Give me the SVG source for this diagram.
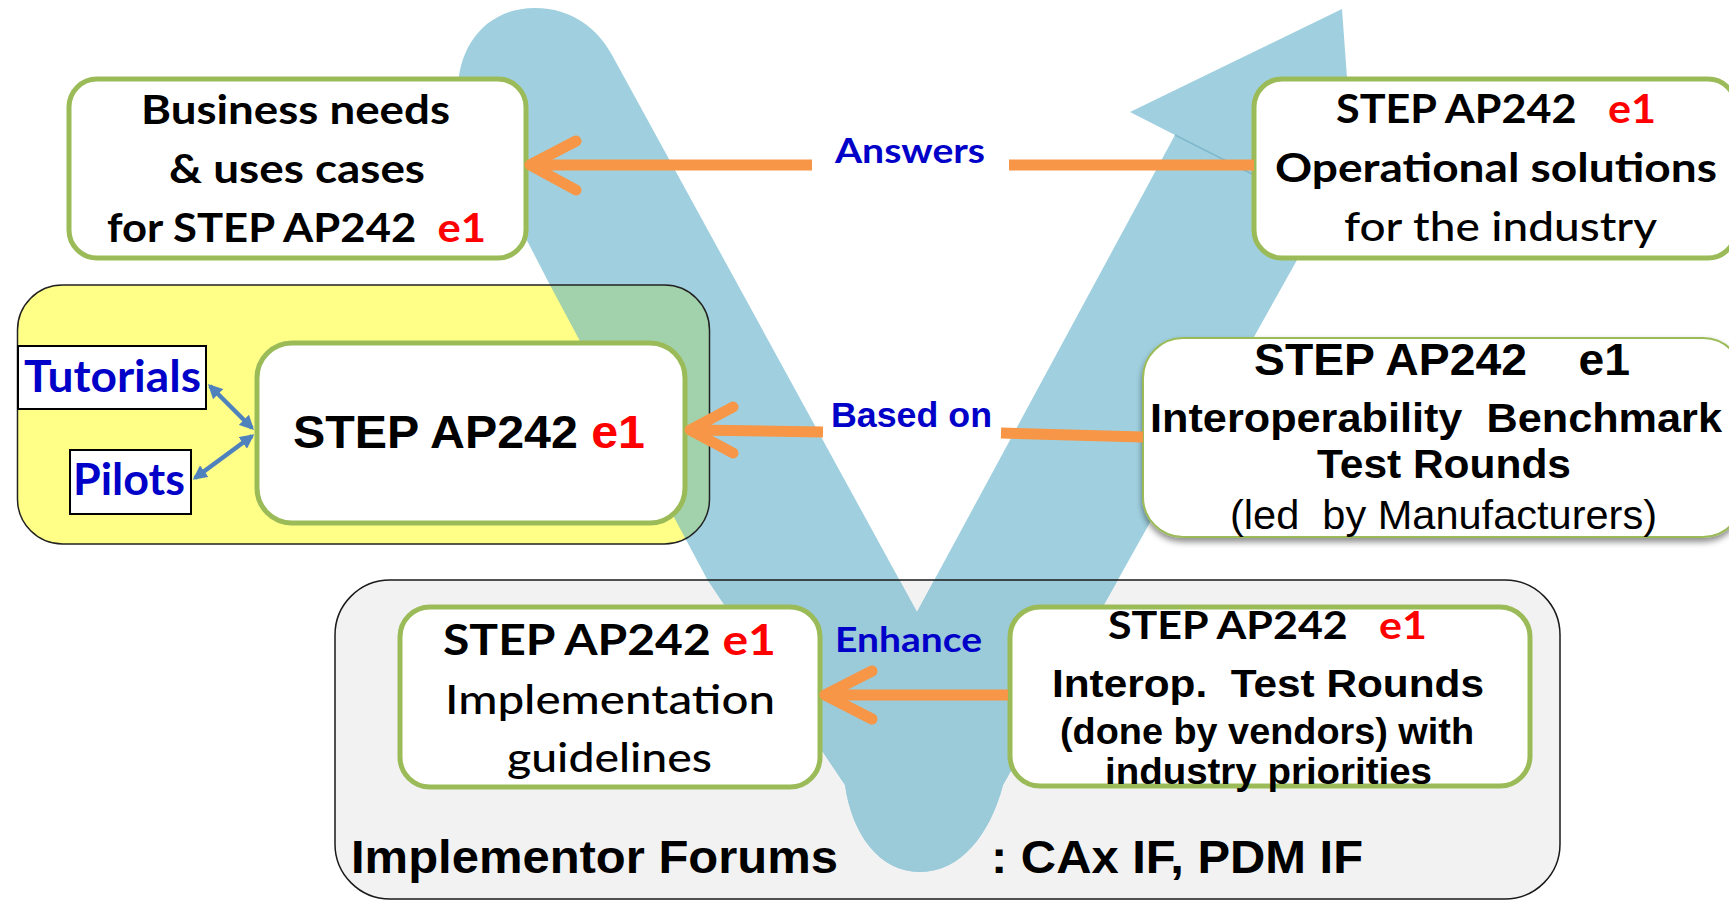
<svg xmlns="http://www.w3.org/2000/svg" width="1729" height="902" viewBox="0 0 1729 902">
<style>
.box{fill:#fff;stroke:#9BBB59;stroke-width:5}
.cal{font-family:Lato,"Liberation Sans",sans-serif;font-weight:bold;fill:#000}
.calr{font-family:Lato,"Liberation Sans",sans-serif;font-weight:500;fill:#000}
.ar{font-family:"Liberation Sans",Arial,sans-serif;font-weight:bold;fill:#000}
.arr{font-family:"Liberation Sans",Arial,sans-serif;font-weight:normal;fill:#000}
.red{fill:#FF0000}
.lbl{fill:#0000C8}
.or{stroke:#F79646;stroke-width:11;fill:none}
.orh{stroke:#F79646;stroke-width:11;fill:none;stroke-linecap:round;stroke-linejoin:round}
.bl{stroke:#4F81BD;stroke-width:4.5;fill:none}
.tb{fill:#fff;stroke:#000;stroke-width:2}
</style>
<defs>
<path id="vpath" d="M917,612 L1175,135 L1130,112 L1342,9 L1353,160 L1003,785 C990,835 960,872 920,872 C880,872 852,835 845,785 L707,579 L550,285 L462,115 C448,70 472,8 535,8 C572,8 598,29 612,55 Z"/>
<clipPath id="clipY"><rect x="17.5" y="285" width="692" height="259" rx="45"/></clipPath>
<clipPath id="clipG"><rect x="335" y="580" width="1225" height="319" rx="55"/></clipPath>
<marker id="bh" viewBox="0 0 10 10" refX="8" refY="5" markerWidth="3.2" markerHeight="3.2" orient="auto-start-reverse"><path d="M0,0 L10,5 L0,10 z" fill="#4F81BD"/></marker>
<filter id="sh" x="-5%" y="-5%" width="110%" height="125%"><feDropShadow dx="0" dy="4" stdDeviation="3" flood-color="#000" flood-opacity="0.45"/></filter>
</defs>

<g id="forums-bg"><rect x="335" y="580" width="1225" height="319" rx="55" fill="#F2F2F2"/></g>

<g id="v-shape">
<use href="#vpath" fill="#A0D0DF"/>
<use href="#vpath" fill="#9BCAD8" clip-path="url(#clipG)"/>
<line x1="1175" y1="135" x2="1254" y2="175" stroke="#7FB8CC" stroke-width="1.5"/>
</g>

<g id="adoption-group">
<rect x="17.5" y="285" width="692" height="259" rx="45" fill="#FFFF88"/>
<use href="#vpath" fill="#A2D2AB" clip-path="url(#clipY)"/>
<rect x="17.5" y="285" width="692" height="259" rx="45" fill="none" stroke="#222" stroke-width="1.5"/>
</g>

<g id="forums">
<rect x="335" y="580" width="1225" height="319" rx="55" fill="none" stroke="#1a1a1a" stroke-width="1.5"/>
<text class="ar" x="351" y="873" font-size="47" textLength="487" lengthAdjust="spacingAndGlyphs">Implementor Forums</text>
<text class="ar" x="991" y="873" font-size="47" textLength="372" lengthAdjust="spacingAndGlyphs">: CAx IF, PDM IF</text>
</g>

<g id="business-needs">
<rect class="box" x="69" y="79" width="457" height="179" rx="28"/>
<text class="cal" x="141" y="124" font-size="40" textLength="309" lengthAdjust="spacingAndGlyphs">Business needs</text>
<text class="cal" x="169" y="183" font-size="40" textLength="256" lengthAdjust="spacingAndGlyphs">&amp; uses cases</text>
<text class="cal" x="107" y="242" font-size="40" textLength="379" lengthAdjust="spacingAndGlyphs" xml:space="preserve">for STEP AP242  <tspan class="red">e1</tspan></text>
</g>

<g id="operational">
<rect class="box" x="1254" y="79" width="482" height="179" rx="28"/>
<text class="cal" x="1336" y="123" font-size="40" textLength="320" lengthAdjust="spacingAndGlyphs" xml:space="preserve">STEP AP242   <tspan class="red">e1</tspan></text>
<text class="cal" x="1275" y="182" font-size="40" textLength="442" lengthAdjust="spacingAndGlyphs">Operational solutions</text>
<text class="calr" x="1344" y="241" font-size="40" textLength="313" lengthAdjust="spacingAndGlyphs">for the industry</text>
</g>

<g id="step-ap242">
<rect class="box" x="257" y="343" width="428" height="180" rx="35"/>
<text class="ar" x="293" y="448" font-size="46" textLength="352" lengthAdjust="spacingAndGlyphs">STEP AP242 <tspan class="red">e1</tspan></text>
</g>

<g id="tutorials">
<rect class="tb" x="18" y="346" width="188" height="63"/>
<text class="cal lbl" x="24" y="392" font-size="44" textLength="177" lengthAdjust="spacingAndGlyphs">Tutorials</text>
</g>

<g id="pilots">
<rect class="tb" x="70" y="450" width="121" height="64"/>
<text class="cal lbl" x="73" y="495" font-size="44" textLength="112" lengthAdjust="spacingAndGlyphs">Pilots</text>
</g>

<g id="benchmark">
<rect x="1143" y="338" width="600" height="199" rx="40" fill="#fff" stroke="#9BBB59" stroke-width="2" filter="url(#sh)"/>
<text class="ar" x="1254" y="375" font-size="44" textLength="376" lengthAdjust="spacingAndGlyphs" xml:space="preserve">STEP AP242    e1</text>
<text class="ar" x="1150" y="432" font-size="41" textLength="572" lengthAdjust="spacingAndGlyphs" xml:space="preserve">Interoperability  Benchmark</text>
<text class="ar" x="1317" y="478" font-size="41" textLength="254" lengthAdjust="spacingAndGlyphs">Test Rounds</text>
<text class="arr" x="1230" y="529" font-size="40" textLength="427" lengthAdjust="spacingAndGlyphs" xml:space="preserve">(led  by Manufacturers)</text>
</g>

<g id="implementation">
<rect class="box" x="400" y="607" width="420" height="180" rx="30"/>
<text class="cal" x="443" y="655" font-size="42" textLength="333" lengthAdjust="spacingAndGlyphs">STEP AP242 <tspan class="red">e1</tspan></text>
<text class="calr" x="445" y="714" font-size="40" textLength="330" lengthAdjust="spacingAndGlyphs">Implementation</text>
<text class="calr" x="507" y="772" font-size="40" textLength="205" lengthAdjust="spacingAndGlyphs">guidelines</text>
</g>

<g id="interop">
<rect class="box" x="1010" y="607" width="520" height="179" rx="30"/>
<text class="cal" x="1108" y="639" font-size="38" textLength="319" lengthAdjust="spacingAndGlyphs" xml:space="preserve">STEP AP242   <tspan class="red">e1</tspan></text>
<text class="ar" x="1052" y="697" font-size="39" textLength="432" lengthAdjust="spacingAndGlyphs" fill="#1a1a1a" xml:space="preserve">Interop.  Test Rounds</text>
<text class="ar" x="1060" y="744" font-size="36" textLength="414" lengthAdjust="spacingAndGlyphs">(done by vendors) with</text>
<text class="ar" x="1105" y="784" font-size="36" textLength="327" lengthAdjust="spacingAndGlyphs">industry priorities</text>
</g>

<g id="connectors">
<line class="or" x1="1254" y1="165" x2="1009" y2="165"/>
<line class="or" x1="812" y1="165" x2="534" y2="165"/>
<polyline class="orh" points="576,141 530,165 576,190"/>
<text class="cal lbl" x="835" y="163" font-size="34" textLength="150" lengthAdjust="spacingAndGlyphs">Answers</text>

<line class="or" x1="1143" y1="437" x2="1001" y2="433"/>
<line class="or" x1="823" y1="432" x2="694" y2="430"/>
<polyline class="orh" points="733,407 690,430 733,453"/>
<text class="ar lbl" x="831" y="427" font-size="35" textLength="161" lengthAdjust="spacingAndGlyphs">Based on</text>

<line class="or" x1="1008" y1="695" x2="828" y2="695"/>
<polyline class="orh" points="872,671 825,695 872,719"/>
<text class="cal lbl" x="835" y="652" font-size="34" textLength="147" lengthAdjust="spacingAndGlyphs">Enhance</text>

<line class="bl" x1="210" y1="386" x2="252" y2="428" marker-start="url(#bh)" marker-end="url(#bh)"/>
<line class="bl" x1="195" y1="478" x2="252" y2="436" marker-start="url(#bh)" marker-end="url(#bh)"/>
</g>
</svg>
